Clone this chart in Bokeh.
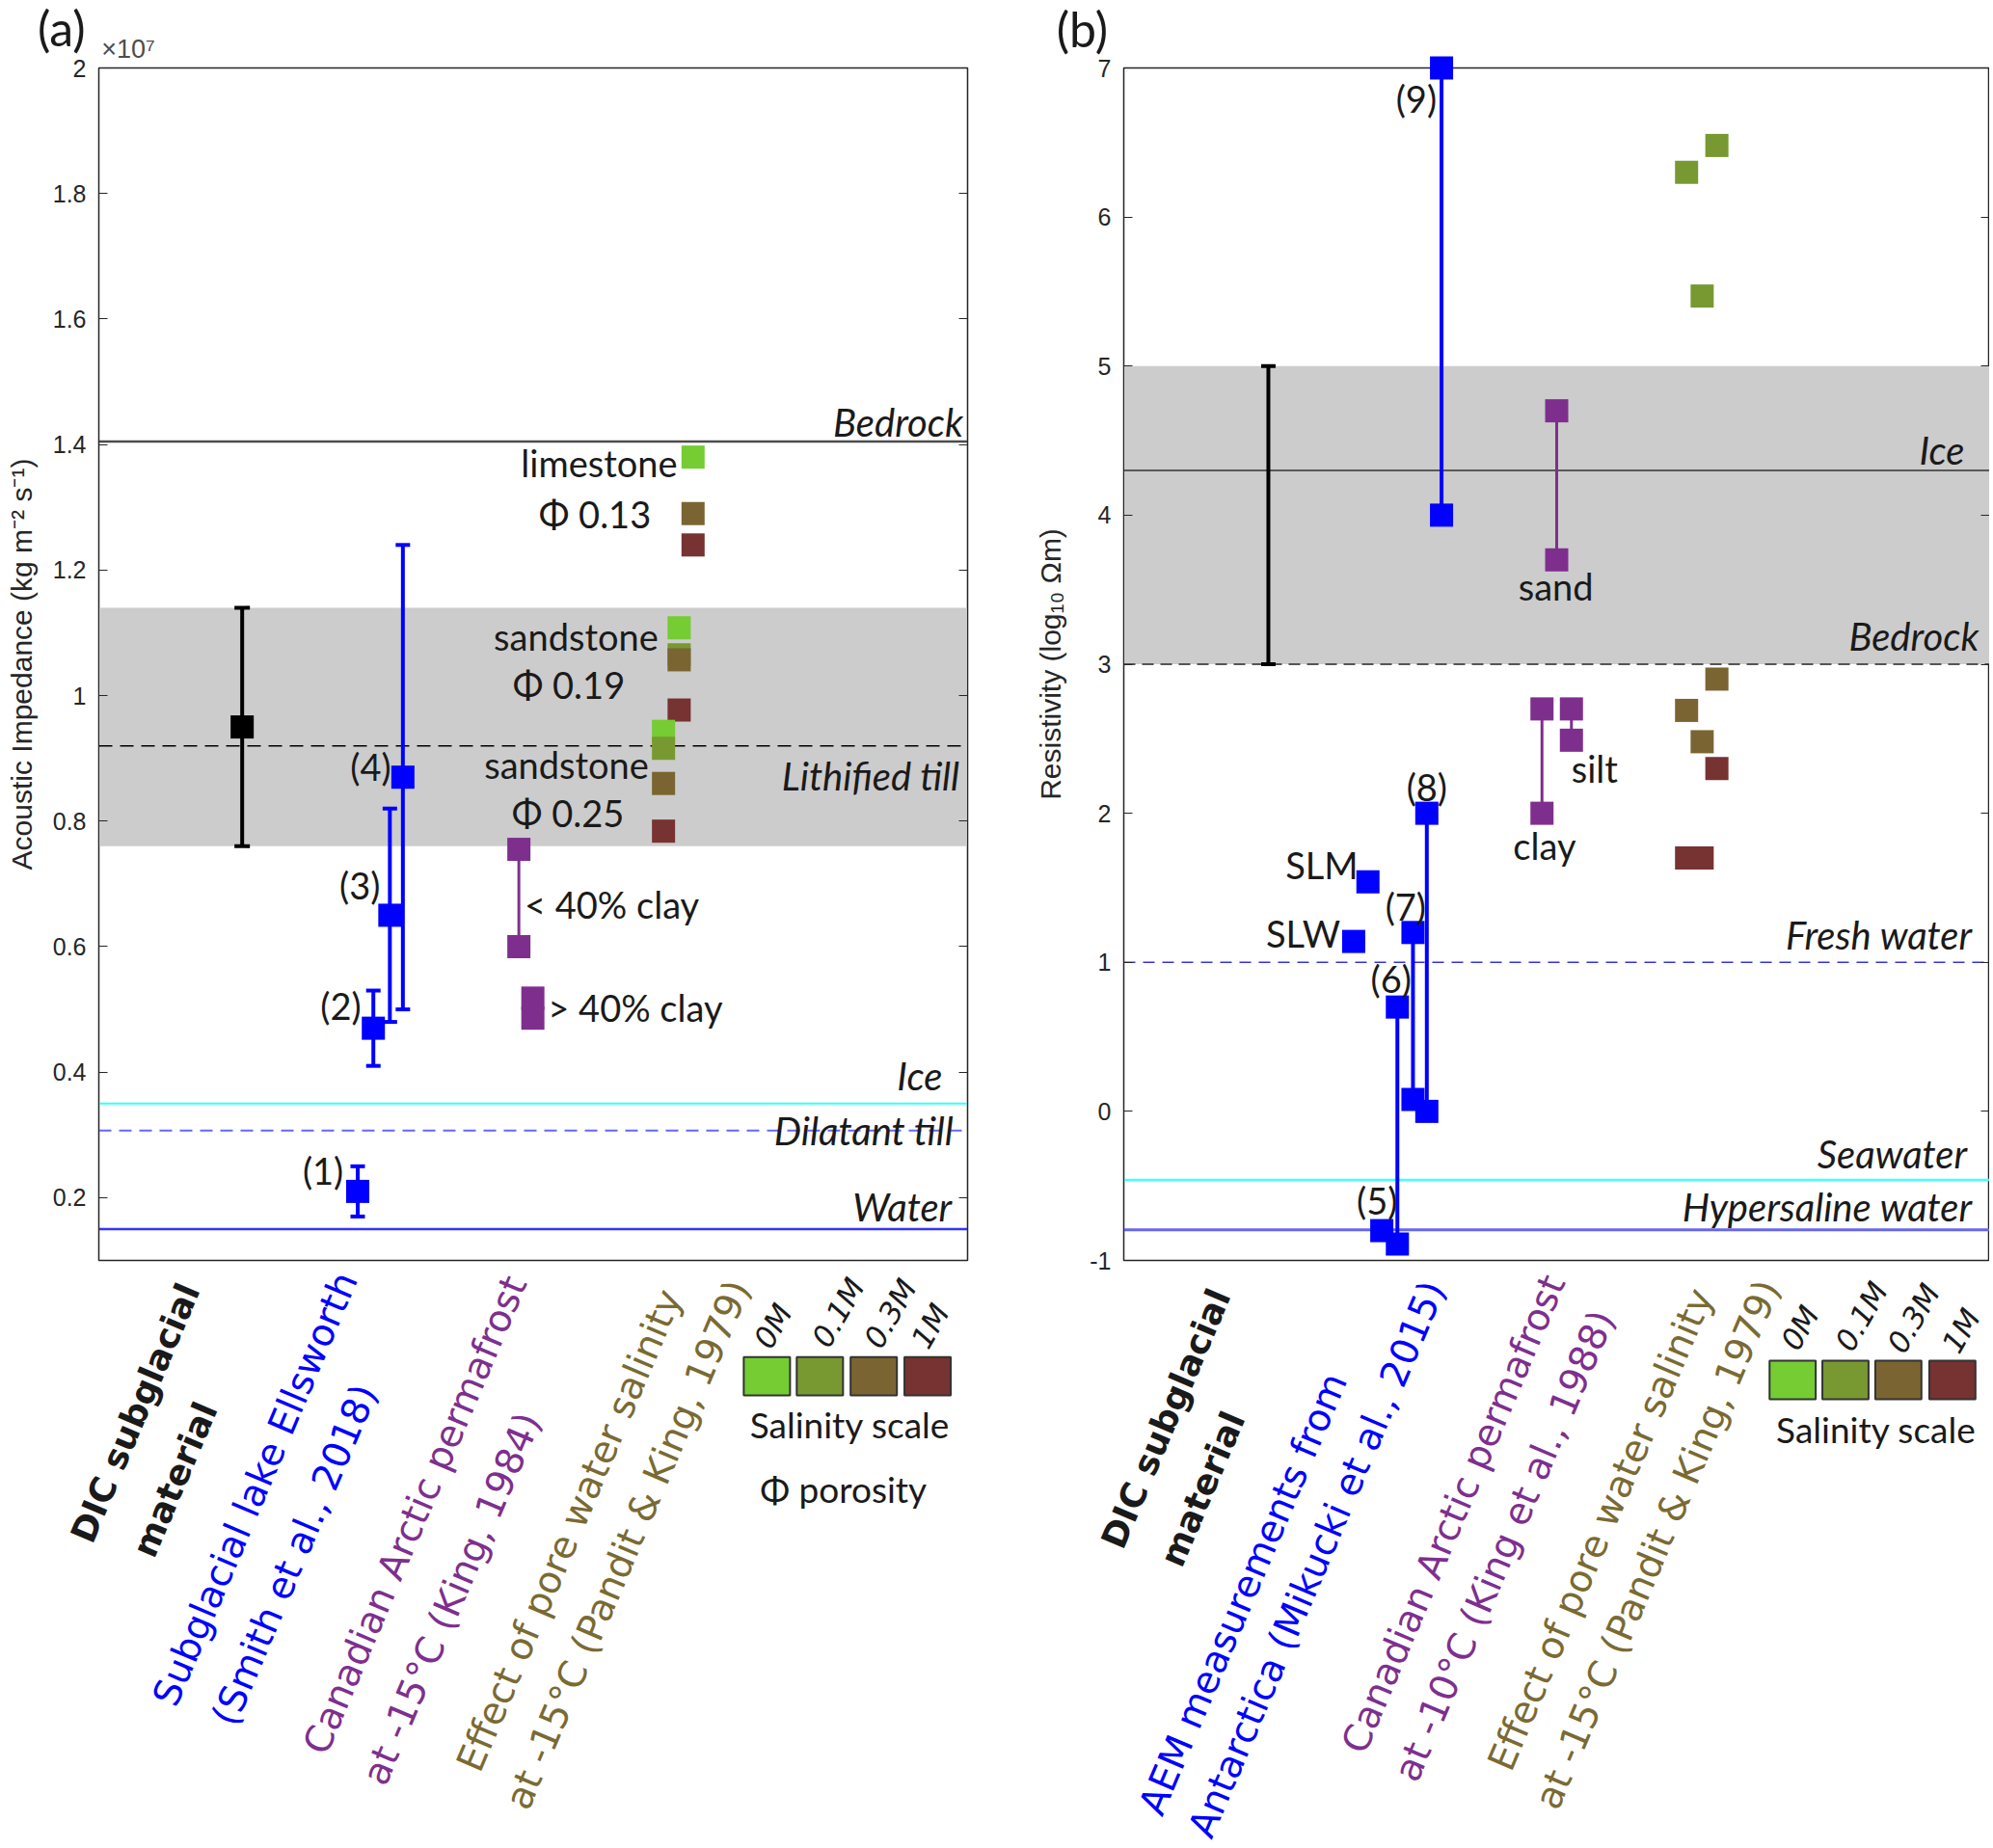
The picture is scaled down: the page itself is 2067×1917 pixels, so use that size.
from bokeh.plotting import figure
from bokeh.models import Range1d, FixedTicker, LinearAxis, Span, BoxAnnotation
from bokeh.layouts import row
from bokeh.embed import file_html
from bokeh.resources import INLINE
from bokeh.core.properties import value

# ---------------- shared ----------------
SAL_NAMES = ["0M", "0.1M", "0.3M", "1M"]
SAL_COLORS = {"0M": "#76cc33", "0.1M": "#789932", "0.3M": "#7a6532", "1M": "#773232"}
BLUE = "#0000ff"
PURPLE = "#7e2f8e"
OLIVE_TXT = "#7a6a32"
TXT = "#1a1a1a"
AXC = "#262626"
LBL_FONT = "Lato"
CAT_FONT = "DejaVu Sans"
AX_FONT = "Liberation Sans"

# ---------------- panel (a): acoustic impedance (x1e7 kg m^-2 s^-1) ----------------
a_yticks = [0.2, 0.4, 0.6, 0.8, 1.0, 1.2, 1.4, 1.6, 1.8, 2.0]
a_ytick_labels = ["0.2", "0.4", "0.6", "0.8", "1", "1.2", "1.4", "1.6", "1.8", "2"]

a_dic_x = [0.165]
a_dic_y = [0.95]
a_dic_lo = [0.76]
a_dic_hi = [1.14]

a_ells_names = ["(1)", "(2)", "(3)", "(4)"]
a_ells_x = [0.298, 0.316, 0.335, 0.350]
a_ells_y = [0.21, 0.47, 0.65, 0.87]
a_ells_lo = [0.17, 0.41, 0.48, 0.50]
a_ells_hi = [0.25, 0.53, 0.82, 1.24]

a_king_x = [0.4835, 0.4835, 0.4996, 0.4996]
a_king_y = [0.755, 0.600, 0.486, 0.518]
a_king_rng_x = [0.4835]
a_king_rng_lo = [0.600]
a_king_rng_hi = [0.755]

a_pk_x = [0.684, 0.684, 0.684, 0.668, 0.668, 0.668, 0.668, 0.650, 0.650, 0.650, 0.650]
a_pk_y = [1.380, 1.290, 1.240, 1.108, 1.065, 1.057, 0.977, 0.943, 0.916, 0.860, 0.784]
a_pk_sal = ["0M", "0.3M", "1M", "0M", "0.1M", "0.3M", "1M", "0M", "0.1M", "0.3M", "1M"]

a_band = [0.76, 1.14]
a_ref_names = ["Bedrock", "Lithified till", "Ice", "Dilatant till", "Water"]
a_ref_y = [1.405, 0.92, 0.35, 0.307, 0.15]
a_ref_color = ["#4d4d4d", "#000000", "#33ffff", "#6666ff", "#3333ff"]
a_ref_dash = ["solid", "14 8", "solid", "13 8", "solid"]
a_ref_width = [2.5, 1.5, 2, 2, 2.5]
a_ref_lbl_x = [0.995, 0.991, 0.971, 0.984, 0.982]
a_ref_lbl_y = [1.435, 0.8715, 0.394, 0.307, 0.185]

a_note_text = ["limestone", "sandstone", "sandstone", "(4)", "(3)", "(2)", "(1)"]
a_note_x = [0.666, 0.644, 0.633, 0.3365, 0.324, 0.302, 0.2816]
a_note_y = [1.371, 1.094, 0.890, 0.887, 0.699, 0.506, 0.244]
a_phi_text = ["\u03a6 0.13", "\u03a6 0.19", "\u03a6 0.25"]
a_phi_x = [0.571, 0.541, 0.540]
a_phi_y = [1.289, 1.017, 0.813]
a_clay_text = ["< 40% clay", "> 40% clay"]
a_clay_x = [0.490, 0.517]
a_clay_y = [0.667, 0.503]

a_cat_text = ["DIC subglacial", "material", "Subglacial lake Ellsworth", "(Smith et al., 2018)",
              "Canadian Arctic permafrost", "at -15\u00b0C (King, 1984)",
              "Effect of pore water salinity", "at -15\u00b0C  (Pandit & King, 1979)"]
a_cat_x = [0.042, 0.0877, 0.180, 0.2253, 0.364, 0.406, 0.5416, 0.6115]
a_cat_y = [-0.143, -0.249, -0.264, -0.369, -0.3055, -0.439, -0.330, -0.344]
a_cat_color = ["#1a1a1a", "#1a1a1a", BLUE, BLUE, PURPLE, PURPLE, OLIVE_TXT, OLIVE_TXT]

a_sal_x = [0.769, 0.830, 0.892, 0.954]
a_sal_y = -0.0845
a_sal_w = 0.0533
a_sal_h = 0.0614
a_sal_lbl_x = [0.776, 0.851, 0.911, 0.957]
a_sal_lbl_y = [-0.0045, 0.017, 0.0155, -0.0045]

# ---------------- panel (b): resistivity (log10 ohm m) ----------------
b_yticks = [-1, 0, 1, 2, 3, 4, 5, 6, 7]
b_ytick_labels = ["-1", "0", "1", "2", "3", "4", "5", "6", "7"]

b_dic_x = [0.167]
b_dic_lo = [3.0]
b_dic_hi = [5.0]

b_aem_names = ["(5)", "(6)", "(7)", "(8)", "(9)"]
b_aem_rng_x = [0.316, 0.334, 0.350, 0.367]
b_aem_rng_lo = [-0.89, 0.08, 0.00, 4.00]
b_aem_rng_hi = [0.70, 1.20, 2.00, 7.00]
b_aem_pt_x = [0.298, 0.316, 0.316, 0.334, 0.334, 0.350, 0.350, 0.367, 0.367, 0.282, 0.2655]
b_aem_pt_y = [-0.80, 0.70, -0.89, 1.20, 0.08, 2.00, 0.00, 7.00, 4.00, 1.54, 1.14]

b_king_rng_x = [0.500, 0.483, 0.517]
b_king_rng_lo = [3.70, 2.00, 2.49]
b_king_rng_hi = [4.70, 2.70, 2.70]
b_king_names = ["sand", "clay", "silt"]

b_pk_x = [0.650, 0.685, 0.668, 0.685, 0.650, 0.668, 0.685, 0.650, 0.668]
b_pk_y = [6.30, 6.48, 5.47, 2.90, 2.69, 2.48, 2.30, 1.70, 1.70]
b_pk_sal = ["0.1M", "0.1M", "0.1M", "0.3M", "0.3M", "0.3M", "1M", "1M", "1M"]

b_band = [3.0, 5.0]
b_ref_names = ["Ice", "Bedrock", "Fresh water", "Seawater", "Hypersaline water"]
b_ref_y = [4.3, 3.0, 1.0, -0.46, -0.795]
b_ref_color = ["#333333", "#555555", "#3333dd", "#44ffff", "#6666ee"]
b_ref_dash = ["solid", "12 7", "12 8", "solid", "solid"]
b_ref_width = [1.5, 2, 1.5, 2.5, 3]
b_ref_lbl_x = [0.971, 0.9876, 0.980, 0.974, 0.980]
b_ref_lbl_y = [4.434, 3.19, 1.183, -0.287, -0.643]

b_note_c_text = ["sand", "clay", "(8)", "(7)", "(6)", "(5)"]
b_note_c_x = [0.499, 0.486, 0.350, 0.3255, 0.3087, 0.2926]
b_note_c_y = [3.523, 1.7825, 2.177, 1.376, 0.890, -0.599]
b_note_r_text = ["(9)", "SLM", "SLW"]
b_note_r_x = [0.3614, 0.2707, 0.250]
b_note_r_y = [6.795, 1.658, 1.198]
b_note_l_text = ["silt"]
b_note_l_x = [0.517]
b_note_l_y = [2.302]

b_cat_text = ["DIC subglacial", "material", "AEM measurements from", "Antarctica (Mikucki et al., 2015)",
              "Canadian Arctic permafrost", "at -10\u00b0C (King et al., 1988)",
              "Effect of pore water salinity", "at -15\u00b0C  (Pandit & King, 1979)"]
b_cat_x = [0.0488, 0.091, 0.1376, 0.223, 0.3807, 0.4395, 0.5505, 0.619]
b_cat_y = [-2.061, -2.533, -3.237, -3.004, -2.70, -2.914, -2.804, -2.869]
b_cat_color = ["#1a1a1a", "#1a1a1a", BLUE, BLUE, PURPLE, PURPLE, OLIVE_TXT, OLIVE_TXT]

b_sal_x = [0.7725, 0.8335, 0.8946, 0.957]
b_sal_y = -1.802
b_sal_w = 0.0533
b_sal_h = 0.2587
b_sal_lbl_x = [0.781, 0.852, 0.912, 0.967]
b_sal_lbl_y = [-1.452, -1.375, -1.388, -1.472]


def style(p, ticks, labels, ylabel, lab_standoff):
    p.xaxis.visible = False
    p.xgrid.visible = False
    p.ygrid.visible = False
    p.outline_line_color = AXC
    p.outline_line_width = 1.5
    p.background_fill_color = "white"
    p.border_fill_color = "white"
    ax = p.yaxis[0]
    ax.ticker = FixedTicker(ticks=ticks)
    ax.major_label_overrides = {t: l for t, l in zip(ticks, labels)}
    ax.major_tick_in = 9
    ax.major_tick_out = 0
    ax.minor_tick_in = 0
    ax.minor_tick_out = 0
    ax.axis_line_color = AXC
    ax.major_tick_line_color = AXC
    ax.major_label_text_font = AX_FONT
    ax.major_label_text_font_size = "25px"
    ax.major_label_text_color = AXC
    ax.major_label_standoff = 13
    ax.axis_label = ylabel
    ax.axis_label_text_font = AX_FONT
    ax.axis_label_text_font_size = "30px"
    ax.axis_label_text_font_style = "normal"
    ax.axis_label_text_color = AXC
    ax.axis_label_standoff = lab_standoff
    rax = LinearAxis(ticker=FixedTicker(ticks=ticks), major_label_text_font_size="0px",
                     major_tick_in=9, major_tick_out=0, minor_tick_in=0, minor_tick_out=0,
                     major_label_standoff=0, axis_line_color=AXC, major_tick_line_color=AXC)
    p.add_layout(rax, "right")


def add_texts(p, xs, ys, texts, size, color, align="center", font=LBL_FONT, style_="normal", angle=0):
    p.text(x=xs, y=ys, text=texts, text_font=value(font), text_font_size=value(size),
           text_color=color, text_align=align, text_baseline="middle", text_font_style=style_,
           angle=angle, angle_units="deg", level="overlay")


def add_common(p, ref_y, ref_color, ref_dash, ref_width, band, ref_names, ref_lx, ref_ly,
               cat_x, cat_y, cat_text, cat_color, sal_x, sal_y, sal_w, sal_h, sal_lx, sal_ly):
    p.add_layout(BoxAnnotation(bottom=band[0], top=band[1], fill_color="#cccccc", fill_alpha=1.0,
                               line_color=None, level="underlay"))
    for y, c, d, w in zip(ref_y, ref_color, ref_dash, ref_width):
        p.add_layout(Span(location=y, dimension="width", line_color=c, line_dash=d, line_width=w,
                          level="underlay"))
    add_texts(p, ref_lx, ref_ly, ref_names, "40px", TXT, align="right", style_="italic")
    bold = [0, 1]
    for i, (x, y, t, c) in enumerate(zip(cat_x, cat_y, cat_text, cat_color)):
        add_texts(p, [x], [y], [t], "36px" if i in bold else "39px", c, font=CAT_FONT,
                  style_="bold" if i in bold else "normal", angle=67)
    p.rect(x=sal_x, y=[sal_y] * 4, width=sal_w, height=sal_h,
           fill_color=[SAL_COLORS[s] for s in SAL_NAMES], line_color="#333333", line_width=2,
           level="overlay")
    add_texts(p, sal_lx, sal_ly, SAL_NAMES, "31px", TXT, font=CAT_FONT, style_="italic", angle=60)


# ================= panel (a) =================
pa = figure(width=1040, height=1912, x_range=Range1d(0, 1), y_range=Range1d(0.1, 2.0),
            output_backend="svg", toolbar_location=None,
            min_border_left=102, min_border_right=37, min_border_top=70, min_border_bottom=605)
style(pa, a_yticks, a_ytick_labels, "Acoustic Impedance (kg m\u207b\u00b2 s\u207b\u00b9)", 13)
add_common(pa, a_ref_y, a_ref_color, a_ref_dash, a_ref_width, a_band, a_ref_names,
           a_ref_lbl_x, a_ref_lbl_y, a_cat_x, a_cat_y, a_cat_text, a_cat_color,
           a_sal_x, a_sal_y, a_sal_w, a_sal_h, a_sal_lbl_x, a_sal_lbl_y)

pa.segment(x0=a_dic_x, y0=a_dic_lo, x1=a_dic_x, y1=a_dic_hi, line_color="black", line_width=4)
pa.scatter(x=a_dic_x * 2, y=a_dic_lo + a_dic_hi, marker="dash", size=16, line_color="black", line_width=4)
pa.scatter(x=a_dic_x, y=a_dic_y, marker="square", size=24, fill_color="black", line_color=None, level="overlay")
pa.segment(x0=a_ells_x, y0=a_ells_lo, x1=a_ells_x, y1=a_ells_hi, line_color=BLUE, line_width=4)
pa.scatter(x=a_ells_x * 2, y=a_ells_lo + a_ells_hi, marker="dash", size=15, line_color=BLUE, line_width=4)
pa.scatter(x=a_ells_x, y=a_ells_y, marker="square", size=24, fill_color=BLUE, line_color=None, level="overlay")
pa.segment(x0=a_king_rng_x, y0=a_king_rng_lo, x1=a_king_rng_x, y1=a_king_rng_hi, line_color=PURPLE, line_width=3)
pa.scatter(x=a_king_x, y=a_king_y, marker="square", size=24, fill_color=PURPLE, line_color=None, level="overlay")
pa.scatter(x=a_pk_x, y=a_pk_y, marker="square", size=24, fill_color=[SAL_COLORS[s] for s in a_pk_sal],
           line_color=None, level="overlay")

add_texts(pa, a_note_x, a_note_y, a_note_text, "38px", TXT, align="right")
add_texts(pa, a_phi_x, a_phi_y, a_phi_text, "38px", TXT, align="center")
add_texts(pa, a_clay_x, a_clay_y, a_clay_text, "38px", TXT, align="left")
add_texts(pa, [0.8646], [-0.161], ["Salinity scale"], "37px", TXT)
add_texts(pa, [0.857], [-0.264], ["\u03a6 porosity"], "37px", TXT)
add_texts(pa, [-0.043], [2.063], ["(a)"], "50px", TXT)
add_texts(pa, [0.003], [2.030], ["\u00d710\u2077"], "27px", "#4d4d4d", align="left", font=AX_FONT)

# ================= panel (b) =================
pb = figure(width=1023, height=1912, x_range=Range1d(0, 1), y_range=Range1d(-1, 7),
            output_backend="svg", toolbar_location=None,
            min_border_left=125, min_border_right=0, min_border_top=70, min_border_bottom=605)
style(pb, b_yticks, b_ytick_labels, "Resistivity (log\u2081\u2080 \u03a9m)", 21)
add_common(pb, b_ref_y, b_ref_color, b_ref_dash, b_ref_width, b_band, b_ref_names,
           b_ref_lbl_x, b_ref_lbl_y, b_cat_x, b_cat_y, b_cat_text, b_cat_color,
           b_sal_x, b_sal_y, b_sal_w, b_sal_h, b_sal_lbl_x, b_sal_lbl_y)

pb.segment(x0=b_dic_x, y0=b_dic_lo, x1=b_dic_x, y1=b_dic_hi, line_color="black", line_width=4)
pb.scatter(x=b_dic_x * 2, y=b_dic_lo + b_dic_hi, marker="dash", size=15, line_color="black", line_width=4)
pb.segment(x0=b_aem_rng_x, y0=b_aem_rng_lo, x1=b_aem_rng_x, y1=b_aem_rng_hi, line_color=BLUE, line_width=4)
pb.scatter(x=b_aem_pt_x, y=b_aem_pt_y, marker="square", size=24, fill_color=BLUE, line_color=None, level="overlay")
pb.segment(x0=b_king_rng_x, y0=b_king_rng_lo, x1=b_king_rng_x, y1=b_king_rng_hi, line_color=PURPLE, line_width=3)
pb.scatter(x=b_king_rng_x * 2, y=b_king_rng_lo + b_king_rng_hi, marker="square", size=24,
           fill_color=PURPLE, line_color=None, level="overlay")
pb.scatter(x=b_pk_x, y=b_pk_y, marker="square", size=24, fill_color=[SAL_COLORS[s] for s in b_pk_sal],
           line_color=None, level="overlay")

add_texts(pb, b_note_c_x, b_note_c_y, b_note_c_text, "38px", TXT, align="center")
add_texts(pb, b_note_r_x, b_note_r_y, b_note_r_text, "38px", TXT, align="right")
add_texts(pb, b_note_l_x, b_note_l_y, b_note_l_text, "38px", TXT, align="left")
add_texts(pb, [0.869], [-2.131], ["Salinity scale"], "37px", TXT)
add_texts(pb, [-0.048], [7.265], ["(b)"], "50px", TXT)

layout = row(pa, pb)
open("out.html", "w").write(file_html(layout, INLINE))
